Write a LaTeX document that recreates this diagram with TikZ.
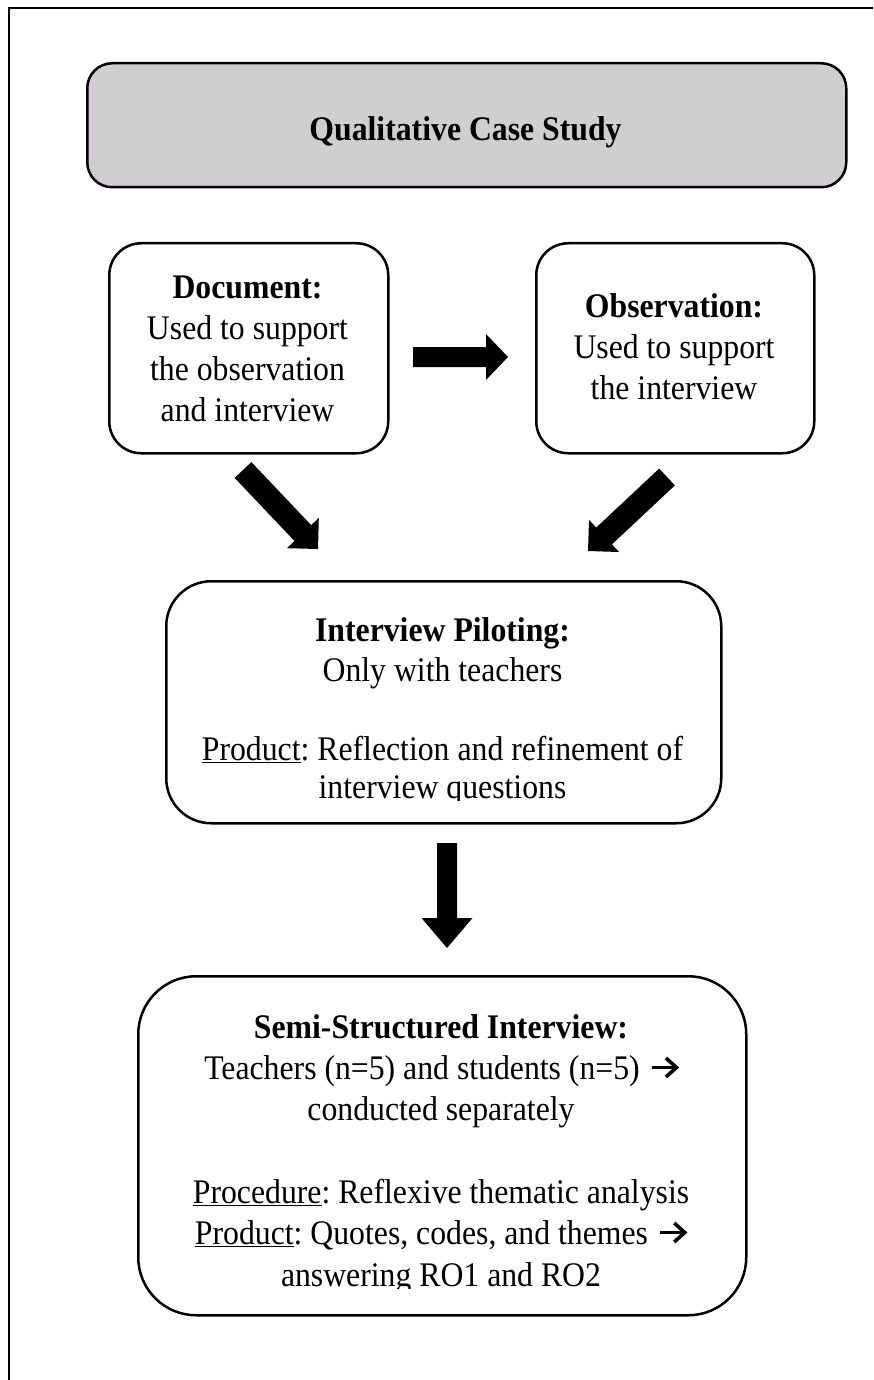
\documentclass[tikz,border=0pt]{standalone}
\usepackage{fontspec}
\setmainfont{Liberation Serif}[FakeStretch=0.92]
\usetikzlibrary{calc}
\definecolor{boxgray}{RGB}{208,206,208}
\frenchspacing

% Solid block arrow from tail #1 to tip #2:
% #3 half shaft width, #4 half head width, #5 head length
\newcommand\fatarrow[5]{%
  \coordinate (fa-base) at ($(#2)!#5!(#1)$);
  \fill[arrowfill]
    ($(#1)!#3!90:(#2)$) -- ($(fa-base)!#3!-90:(#1)$) -- ($(fa-base)!#4!-90:(#1)$)
    -- (#2) -- ($(fa-base)!#4!90:(#1)$) -- ($(fa-base)!#3!90:(#1)$)
    -- ($(#1)!#3!-90:(#2)$) -- cycle;}

% open-headed arrow at the end of a text line (the line ends with \arrowgap)
\newcommand\arrowgap{\kern39pt}
\newcommand\txtarrow[1]{%
  \draw[tarrowline] ([xshift=-27pt,yshift=11.5pt]#1.base east)
    -- ([xshift=-3pt,yshift=11.5pt]#1.base east);
  \draw[tarrowline] ([xshift=-13pt,yshift=21pt]#1.base east)
    -- ([xshift=-2.5pt,yshift=11.5pt]#1.base east)
    -- ([xshift=-13pt,yshift=2pt]#1.base east);}

\begin{document}
\begin{tikzpicture}[x=1pt,y=-1pt,
  box/.style={draw, line width=2.5pt, rounded corners=#1, inner sep=0pt,
    anchor=north west},
  ln/.style={anchor=base, inner sep=0pt, font=\fontsize{34.5}{40}\selectfont},
  hd/.style={anchor=base, inner sep=0pt, font=\fontsize{34.5}{40}\selectfont\bfseries},
  arrowfill/.style={fill=black},
  tarrowline/.style={line width=3.6pt, miter limit=10},
  frame/.style={line width=2.2pt}]

\useasboundingbox (0,0) rectangle (873,1380);

% page frame (top and left edges)
\draw[frame] (9,1382) -- (9,8) -- (873,8);

% title box
\node[box=25pt, fill=boxgray, minimum width=759pt, minimum height=124pt] (qcs) at (86,62) {};
\node[hd] (qcs-t) at (465.5,141) {Qualitative Case Study};

% document box
\node[box=32pt, minimum width=279pt, minimum height=210pt] (doc) at (108,242) {};
\node[hd] (doc-t1) at (247.5,298) {Document:};
\node[ln] (doc-t2) at (247.5,339) {Used to support};
\node[ln] (doc-t3) at (247.5,380) {the observation};
\node[ln] (doc-t4) at (247.5,421) {and interview};

% observation box
\node[box=32pt, minimum width=278pt, minimum height=210pt] (obs) at (535,242) {};
\node[hd] (obs-t1) at (674,317) {Observation:};
\node[ln] (obs-t2) at (674,358) {Used to support};
\node[ln] (obs-t3) at (674,399) {the interview};

% piloting box
\node[box=45pt, minimum width=555pt, minimum height=242pt] (pil) at (165,580) {};
\node[hd] (pil-t1) at (442.5,641) {Interview Piloting:};
\node[ln] (pil-t2) at (442.5,681) {Only with teachers};
\node[ln] (pil-t3) at (442.5,760) {\underline{Product}: Reflection and refinement of};
\begin{scope}
  \clip (165,580) rectangle (720,800);
  \node[ln] (pil-t4) at (442.5,798) {interview questions};
\end{scope}

% semi-structured interview box
\node[box=58pt, minimum width=608pt, minimum height=339pt] (semi) at (137,975) {};
\node[hd] (semi-t1) at (441,1038) {Semi-Structured Interview:};
\node[ln] (semi-t2) at (441.5,1079) {Teachers (n=5) and students (n=5)\arrowgap};
\txtarrow{semi-t2}
\node[ln] (semi-t3) at (441,1120) {conducted separately};
\node[ln] (semi-t4) at (441,1203) {\underline{Procedure}: Reflexive thematic analysis};
\node[ln] (semi-t5) at (441,1244) {\underline{Product}: Quotes, codes, and themes\arrowgap};
\txtarrow{semi-t5}
\begin{scope}
  \clip (137,975) rectangle (745,1288);
  \node[ln] (semi-t6) at (441,1286) {answering RO1 and RO2};
\end{scope}

% block arrows between the boxes
\coordinate (ar1-s) at (413,357);
\coordinate (ar1-e) at (508,357);
\fatarrow{ar1-s}{ar1-e}{10pt}{23pt}{22pt}

\coordinate (ar2-s) at (243,470);
\coordinate (ar2-e) at (318,549);
\fatarrow{ar2-s}{ar2-e}{11.5pt}{22pt}{22pt}

\coordinate (ar3-s) at (667,477);
\coordinate (ar3-e) at (588,551);
\fatarrow{ar3-s}{ar3-e}{11.5pt}{22pt}{22pt}

\coordinate (ar4-s) at (447,843);
\coordinate (ar4-e) at (447,948);
\fatarrow{ar4-s}{ar4-e}{10pt}{25.5pt}{30pt}

\end{tikzpicture}
\end{document}
